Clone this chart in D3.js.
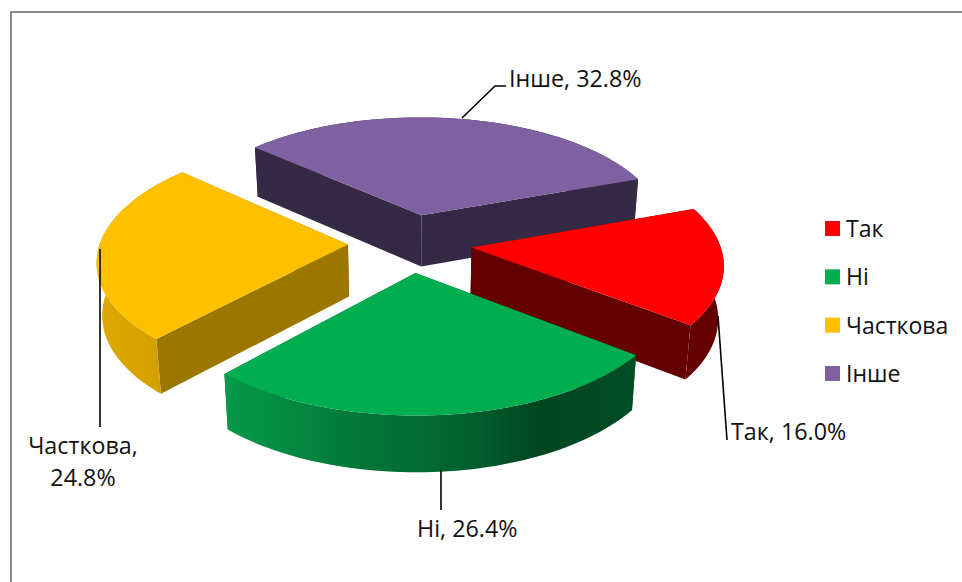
<!DOCTYPE html>
<html><head><meta charset="utf-8">
<script src="https://cdn.jsdelivr.net/npm/d3@7/dist/d3.min.js"></script>
<style>html,body{margin:0;padding:0;background:#fff}svg{display:block}text{font-family:"Open Sans",Lato,"Noto Sans",sans-serif;fill:#111}</style>
</head><body><svg id="c" width="962" height="582"></svg>
<script>
const categories=["Так","Ні","Часткова","Інше"];
const values=[16.0,26.4,24.8,32.8];
const topColors=["#ff0000","#00ae50","#ffc000","#7f60a0"];
const wallColors=["#650000","#025c2b","#9b7700","#352a45"];
const arcStops=[
 [["#650000",0],["#650000",.86],["#5a0000",1]],
 [["#059a4a",0],["#037c3b",.28],["#02602e",.6],["#02461f",.76],["#024d24",1]],
 [["#dfa900",0],["#cf9c00",1]],
 [["#352a45",0],["#352a45",1]]];
const paintOrder=[3,0,2,1];
const labelLines=[["Так, 16.0%"],["Ні, 26.4%"],["Часткова,","24.8%"],["Інше, 32.8%"]];
const labelPos=[[731,440,"start"],[417,537,"start"],[83,454,"middle"],[509,87,"start"]];
const leaders=[[[718,316],[727,440]],[[441,470],[441,510]],[[100,249],[100,427]],[[462,118],[495,86],[506,86]]];

const W=962,H=582,cx=410,cy=243,R=248,squash=.47,persp=.125,explode=.25,depth=52,converge=.018,start=70*Math.PI/180,fs=23.3,legendFs=23;
const svg=d3.select("#c");
const defs=svg.append("defs");
svg.append("path").attr("d",`M${W} 12H11V${H}`).attr("fill","none").attr("stroke","#8c8c8c").attr("stroke-width",2);

const pie=d3.pie().sort(null).startAngle(start).endAngle(start+2*Math.PI);
const arcs=pie(values);
const line=d3.line();
function proj(u,v,z){const k=1/(1-persp*v);return [cx+R*u*k*(1-converge*z/depth),cy+R*v*squash*k+z*(k*.5+.5)];}
function polar(a,r,m){return [r*Math.sin(a)+explode*Math.sin(m),-r*Math.cos(a)-explode*Math.cos(m)];}

paintOrder.forEach(i=>{
  const d=arcs[i],mid=(d.startAngle+d.endAngle)/2;
  const ang=d3.range(0,61).map(t=>d.startAngle+(d.endAngle-d.startAngle)*t/60);
  const apex=polar(0,0,mid);
  const rim=ang.map(a=>polar(a,1,mid));
  const P=(q,z)=>proj(q[0],q[1],z);
  const g=svg.append("g");
  [rim[0],rim[60]].forEach(e=>{
    g.append("path").attr("d",line([P(apex,0),P(e,0),P(e,depth),P(apex,depth)])+"Z").attr("fill",wallColors[i]);
  });
  const topRim=rim.map(q=>P(q,0)),botRim=rim.map(q=>P(q,depth));
  const xs=topRim.concat(botRim).map(p=>p[0]);
  const id="g"+i;
  const gr=defs.append("linearGradient").attr("id",id).attr("gradientUnits","userSpaceOnUse")
    .attr("x1",d3.min(xs)).attr("x2",d3.max(xs)).attr("y1",0).attr("y2",0);
  arcStops[i].forEach(s=>gr.append("stop").attr("offset",s[1]).attr("stop-color",s[0]));
  g.append("path").attr("d",line(topRim.concat(botRim.slice().reverse()))+"Z").attr("fill",`url(#${id})`);
  g.append("path").attr("d",line([P(apex,0)].concat(topRim))+"Z").attr("fill",topColors[i]);
});

leaders.forEach(l=>svg.append("path").attr("d",line(l)).attr("fill","none").attr("stroke","#000").attr("stroke-width",1.6));
labelLines.forEach((ls,i)=>ls.forEach((s,j)=>svg.append("text").attr("x",labelPos[i][0]).attr("y",labelPos[i][1]+j*32)
  .attr("text-anchor",labelPos[i][2]).attr("font-size",fs).text(s)));
const ly=d3.scalePoint().domain(categories).range([228.5,373.5]);
categories.forEach((c,i)=>{
  svg.append("rect").attr("x",825).attr("y",ly(c)-7.5).attr("width",15).attr("height",15).attr("fill",topColors[i]);
  svg.append("text").attr("x",846).attr("y",ly(c)+8.5).attr("font-size",legendFs).text(c);
});
</script></body></html>
